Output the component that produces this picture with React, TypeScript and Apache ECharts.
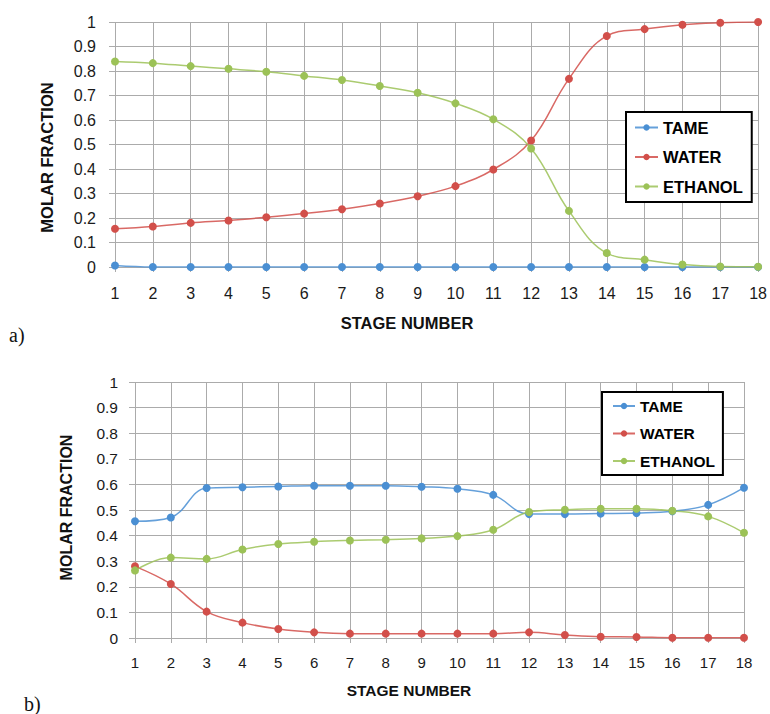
import React, { useEffect, useRef } from "react";
import * as echarts from "echarts";

const stages = ["1","2","3","4","5","6","7","8","9","10","11","12","13","14","15","16","17","18"];
const seriesNames = ["TAME", "WATER", "ETHANOL"];

// Chart a)
const tameA = [0.006, 0, 0, 0, 0, 0, 0, 0, 0, 0, 0, 0, 0, 0, 0, 0, 0, 0];
const waterA = [0.156, 0.165, 0.18, 0.19, 0.203, 0.218, 0.236, 0.259, 0.289, 0.33, 0.398, 0.516, 0.768, 0.943, 0.971, 0.989, 0.997, 1.0];
const ethanolA = [0.839, 0.832, 0.82, 0.809, 0.797, 0.78, 0.763, 0.739, 0.711, 0.668, 0.603, 0.484, 0.229, 0.057, 0.03, 0.01, 0.002, 0.001];

// Chart b)
const tameB = [0.456, 0.471, 0.586, 0.589, 0.592, 0.595, 0.595, 0.595, 0.591, 0.583, 0.559, 0.484, 0.484, 0.486, 0.488, 0.495, 0.52, 0.587];
const waterB = [0.28, 0.211, 0.103, 0.06, 0.035, 0.022, 0.017, 0.017, 0.017, 0.017, 0.017, 0.022, 0.012, 0.005, 0.004, 0.001, 0.001, 0.001];
const ethanolB = [0.264, 0.314, 0.309, 0.346, 0.367, 0.376, 0.381, 0.384, 0.389, 0.398, 0.423, 0.492, 0.501, 0.505, 0.505, 0.497, 0.475, 0.411];

const colors = ["#4a8fd3", "#d24f4a", "#9cc257"];
const gridColor = "#ababab";
const FONT = "'Liberation Sans', Arial, sans-serif";

function makeX(gridIndex: number, fs: number, nameGap: number, padRight: number, labelMargin: number) {
  return {
    type: "category",
    gridIndex,
    data: stages,
    boundaryGap: false,
    name: "STAGE NUMBER",
    nameLocation: "middle",
    nameGap,
    nameTextStyle: { fontFamily: FONT, fontWeight: "bold", fontSize: fs, color: "#111", padding: [0, padRight, 0, 0] },
    axisLine: { show: false },
    axisTick: { show: true, length: 5, lineStyle: { color: gridColor } },
    axisLabel: { fontFamily: FONT, fontSize: fs - 0.5, color: "#1a1a1a", margin: labelMargin, interval: 0 },
    splitLine: { show: true, lineStyle: { color: gridColor, width: 1 } },
  };
}

function makeY(gridIndex: number, fs: number, nameGap: number, pad: number[], labelMargin: number) {
  return {
    type: "value",
    gridIndex,
    min: 0,
    max: 1,
    interval: 0.1,
    name: "MOLAR FRACTION",
    nameLocation: "middle",
    nameGap,
    nameRotate: 90,
    nameTextStyle: { fontFamily: FONT, fontWeight: "bold", fontSize: fs, color: "#111", padding: pad },
    axisLine: { show: false },
    axisTick: { show: true, length: 6, lineStyle: { color: gridColor } },
    axisLabel: { fontFamily: FONT, fontSize: fs - 0.5, color: "#1a1a1a", margin: labelMargin },
    splitLine: { show: true, lineStyle: { color: gridColor, width: 1 } },
  };
}

function makeSeries(name: string, data: number[], idx: number, axisIndex: number) {
  return {
    type: "line",
    name,
    data,
    xAxisIndex: axisIndex,
    yAxisIndex: axisIndex,
    smooth: 0.4,
    symbol: "circle",
    symbolSize: 8,
    showSymbol: true,
    lineStyle: { color: colors[idx], width: 1.5, opacity: 0.85 },
    itemStyle: { color: colors[idx] },
  };
}

export default function App() {
  const ref = useRef<HTMLDivElement>(null);
  useEffect(() => {
    if (!ref.current) return;
    const chart = echarts.init(ref.current, null, { renderer: "svg" });
    chart.setOption({
      animation: false,
      backgroundColor: "#ffffff",
      grid: [
        { left: 115, top: 22, width: 645, height: 245, containLabel: false },
        { left: 135, top: 382, width: 609, height: 256, containLabel: false },
      ],
      xAxis: [makeX(0, 16.5, 47, 59, 18), makeX(1, 15.5, 44, 61, 17)],
      yAxis: [makeY(0, 16.5, 60, [0, 26, 0, 0], 19), makeY(1, 16, 61, [0, 0, 0, 5], 17)],
      legend: [
        {
          data: seriesNames.map((n) => ({ name: n })),
          orient: "vertical",
          left: 626,
          top: 112,
          itemWidth: 23,
          itemHeight: 8,
          itemGap: 12.5,
          padding: [7, 9, 7, 8],
          borderColor: "#000",
          borderWidth: 2,
          backgroundColor: "#fff",
          textStyle: { fontFamily: FONT, fontWeight: "bold", fontSize: 16.5, color: "#000" },
          selectedMode: false,
        },
        {
          data: seriesNames.map((n) => ({ name: n + " " })),
          orient: "vertical",
          left: 602,
          top: 392,
          itemWidth: 22,
          itemHeight: 8,
          itemGap: 11.5,
          padding: [6, 8, 6, 10],
          borderColor: "#000",
          borderWidth: 2,
          backgroundColor: "#fff",
          textStyle: { fontFamily: FONT, fontWeight: "bold", fontSize: 15.5, color: "#000" },
          formatter: (n: string) => n.trim(),
          selectedMode: false,
        },
      ],
      series: [
        makeSeries("TAME", tameA, 0, 0),
        makeSeries("WATER", waterA, 1, 0),
        makeSeries("ETHANOL", ethanolA, 2, 0),
        makeSeries("TAME ", tameB, 0, 1),
        makeSeries("WATER ", waterB, 1, 1),
        makeSeries("ETHANOL ", ethanolB, 2, 1),
      ],
      graphic: [
        {
          type: "text",
          left: 9,
          top: 325,
          style: { text: "a)", font: "20px 'Liberation Serif', 'Times New Roman', serif", fill: "#111" },
        },
        {
          type: "text",
          left: 24,
          top: 694,
          style: { text: "b)", font: "20px 'Liberation Serif', 'Times New Roman', serif", fill: "#111" },
        },
      ],
    });
    return () => chart.dispose();
  }, []);
  return (
    <div
      ref={ref}
      style={{ position: "fixed", left: 0, top: 0, width: 770, height: 714, background: "#fff" }}
    />
  );
}
